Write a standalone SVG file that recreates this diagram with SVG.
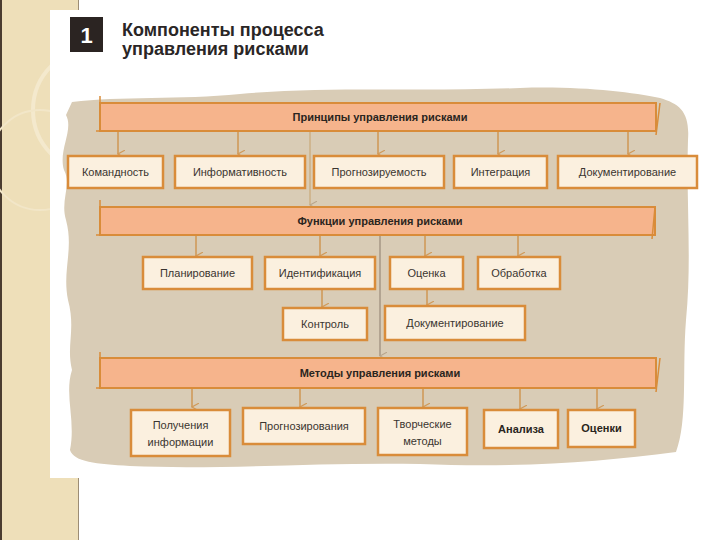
<svg xmlns="http://www.w3.org/2000/svg" width="720" height="540" viewBox="0 0 720 540">
<defs>
<style>
.box{fill:#fbf0df;stroke:#d98c3a;stroke-width:2.5}
.bar{fill:#f6b48c;stroke:#d98c3a;stroke-width:2}
.t{font-family:"Liberation Sans",Arial,sans-serif;font-size:11px;fill:#3a3530;text-anchor:middle}
.bt{font-family:"Liberation Sans",Arial,sans-serif;font-size:11px;font-weight:bold;fill:#2a2520;text-anchor:middle}
.ttl{font-family:"Liberation Sans",Arial,sans-serif;font-size:18px;font-weight:bold;fill:#2a2626}
.ar{stroke:#d09a5a;stroke-width:1.6;fill:none}
.ln{stroke:#c9a878;stroke-width:1.2;fill:none}
.ln2{stroke:#8c7d6c;stroke-width:1;fill:none}
</style>
<marker id="ah" viewBox="0 0 10 10" refX="5" refY="9" markerWidth="8" markerHeight="8" orient="auto-start-reverse" markerUnits="userSpaceOnUse">
<path d="M0,0 L5,9 L10,0" fill="none" stroke="#d09a5a" stroke-width="1.5"/>
</marker>
<marker id="ah2" viewBox="0 0 10 10" refX="5" refY="9" markerWidth="8" markerHeight="8" orient="auto-start-reverse" markerUnits="userSpaceOnUse">
<path d="M0,0 L5,9 L10,0" fill="none" stroke="#b8a48a" stroke-width="1.3"/>
</marker>
</defs>

<!-- page background -->
<rect x="0" y="0" width="720" height="540" fill="#ffffff"/>
<rect x="0" y="0" width="79" height="540" fill="#eedfb9"/>
<line x1="1" y1="0" x2="1" y2="540" stroke="#4a3c30" stroke-width="2"/>
<line x1="78.5" y1="0" x2="78.5" y2="540" stroke="#9c8c74" stroke-width="1"/>
<circle cx="95" cy="110" r="62" fill="none" stroke="#f4e9cd" stroke-width="4"/>
<circle cx="40" cy="160" r="50" fill="none" stroke="#f2e6c8" stroke-width="2"/>
<rect x="50" y="10" width="670" height="468" fill="#ffffff"/>

<!-- blob -->
<path d="M72,102 C120,96 180,100 240,94 C330,86 420,92 520,88 C580,86 630,92 660,98 C680,104 690,112 688,140 C686,200 692,260 686,320 C682,370 688,420 676,452 C600,462 520,468 420,464 C320,462 220,470 130,466 C96,464 74,462 70,450 C76,420 64,395 72,370 C66,345 76,330 68,300 C62,270 74,250 66,220 C60,200 72,185 64,170 C58,150 74,130 66,115 Z" fill="#d9ccb6"/>

<!-- number and title -->
<g id="num">
<rect x="70" y="17" width="33" height="35" fill="#2b2422"/>
<text x="86.5" y="43" font-family="Liberation Sans,Arial,sans-serif" font-size="22" font-weight="bold" fill="#ffffff" text-anchor="middle">1</text>
</g>
<g id="title">
<text class="ttl" x="122" y="36">Компоненты процесса</text>
<text class="ttl" x="122" y="55">управления рисками</text>
</g>

<!-- connectors -->
<g id="connectors">
<line class="ln" x1="310" y1="131" x2="310" y2="205" marker-end="url(#ah2)"/>
<line class="ln2" x1="380" y1="235" x2="380" y2="356" marker-end="url(#ah2)"/>
<line class="ar" x1="118" y1="131" x2="118" y2="154" marker-end="url(#ah)"/>
<line class="ar" x1="238" y1="131" x2="238" y2="154" marker-end="url(#ah)"/>
<line class="ar" x1="378" y1="131" x2="378" y2="154" marker-end="url(#ah)"/>
<line class="ar" x1="498" y1="131" x2="498" y2="154" marker-end="url(#ah)"/>
<line class="ar" x1="628" y1="131" x2="628" y2="154" marker-end="url(#ah)"/>
<line class="ar" x1="196" y1="235" x2="196" y2="256" marker-end="url(#ah)"/>
<line class="ar" x1="320" y1="235" x2="320" y2="256" marker-end="url(#ah)"/>
<line class="ar" x1="425" y1="235" x2="425" y2="256" marker-end="url(#ah)"/>
<line class="ar" x1="518" y1="235" x2="518" y2="256" marker-end="url(#ah)"/>
<line class="ar" x1="322" y1="289" x2="322" y2="307" marker-end="url(#ah)"/>
<line class="ar" x1="427" y1="289" x2="427" y2="305" marker-end="url(#ah)"/>
<line class="ar" x1="192" y1="388" x2="192" y2="407" marker-end="url(#ah)"/>
<line class="ar" x1="300" y1="388" x2="300" y2="407" marker-end="url(#ah)"/>
<line class="ar" x1="423" y1="388" x2="423" y2="407" marker-end="url(#ah)"/>
<line class="ar" x1="520" y1="388" x2="520" y2="409" marker-end="url(#ah)"/>
<line class="ar" x1="597" y1="388" x2="597" y2="409" marker-end="url(#ah)"/>
</g>

<!-- bars -->
<g id="bar1">
<rect class="bar" x="100" y="103" width="556" height="28"/>
<polyline points="100,96 100,131 96,131" fill="none" stroke="#d98c3a" stroke-width="1.5"/>
<polyline points="660,103 656,135" fill="none" stroke="#d98c3a" stroke-width="1.5"/>
<text class="bt" x="380" y="121">Принципы управления рисками</text>
</g>
<g id="bar2">
<rect class="bar" x="100" y="207" width="555" height="28"/>
<polyline points="100,200 100,235 96,235" fill="none" stroke="#d98c3a" stroke-width="1.5"/>
<polyline points="655,207 652,239" fill="none" stroke="#d98c3a" stroke-width="1.5"/>
<text class="bt" x="380" y="225">Функции управления рисками</text>
</g>
<g id="bar3">
<rect class="bar" x="100" y="358" width="556" height="30"/>
<polyline points="100,352 100,388 96,388" fill="none" stroke="#d98c3a" stroke-width="1.5"/>
<polyline points="660,358 656,392" fill="none" stroke="#d98c3a" stroke-width="1.5"/>
<text class="bt" x="380" y="377">Методы управления рисками</text>
</g>

<!-- row 1 -->
<g id="n-komandnost"><rect class="box" x="68" y="156" width="95" height="32"/><text class="t" x="115.5" y="176">Командность</text></g>
<g id="n-informativnost"><rect class="box" x="175" y="156" width="130" height="32"/><text class="t" x="240" y="176">Информативность</text></g>
<g id="n-prognoziruemost"><rect class="box" x="314" y="156" width="130" height="32"/><text class="t" x="379" y="176">Прогнозируемость</text></g>
<g id="n-integratsiya"><rect class="box" x="454" y="156" width="93" height="32"/><text class="t" x="500.5" y="176">Интеграция</text></g>
<g id="n-dokumentirovanie1"><rect class="box" x="558" y="156" width="139" height="32"/><text class="t" x="627.5" y="176">Документирование</text></g>

<!-- row 2 -->
<g id="n-planirovanie"><rect class="box" x="143" y="257" width="109" height="32"/><text class="t" x="197.5" y="277">Планирование</text></g>
<g id="n-identifikatsiya"><rect class="box" x="265" y="257" width="110" height="32"/><text class="t" x="320" y="277">Идентификация</text></g>
<g id="n-otsenka"><rect class="box" x="390" y="257" width="73" height="32"/><text class="t" x="426.5" y="277">Оценка</text></g>
<g id="n-obrabotka"><rect class="box" x="478" y="257" width="82" height="32"/><text class="t" x="519" y="277">Обработка</text></g>

<!-- row 3 -->
<g id="n-kontrol"><rect class="box" x="283" y="308" width="84" height="32"/><text class="t" x="325" y="328">Контроль</text></g>
<g id="n-dokumentirovanie2"><rect class="box" x="385" y="306" width="140" height="34"/><text class="t" x="455" y="327">Документирование</text></g>

<!-- row 4 -->
<g id="n-polucheniya"><rect class="box" x="131" y="410" width="99" height="46"/><text class="t" x="180.5" y="429">Получения</text><text class="t" x="180.5" y="446">информации</text></g>
<g id="n-prognozirovaniya"><rect class="box" x="243" y="408" width="122" height="36"/><text class="t" x="304" y="430">Прогнозирования</text></g>
<g id="n-tvorcheskie"><rect class="box" x="378" y="408" width="89" height="47"/><text class="t" x="422.5" y="428">Творческие</text><text class="t" x="422.5" y="445">методы</text></g>
<g id="n-analiza"><rect class="box" x="484" y="410" width="74" height="38"/><text class="bt" x="521" y="433">Анализа</text></g>
<g id="n-otsenki"><rect class="box" x="568" y="410" width="67" height="37"/><text class="bt" x="601.5" y="432">Оценки</text></g>
</svg>
